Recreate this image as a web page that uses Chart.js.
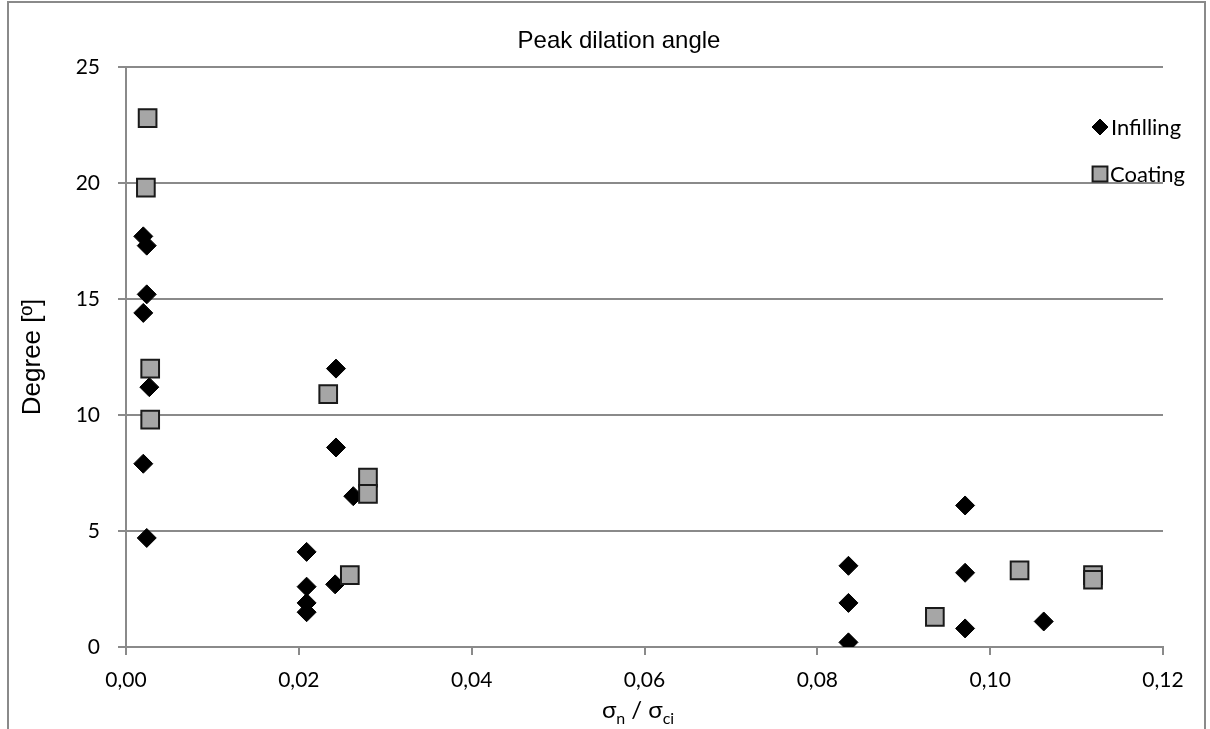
<!DOCTYPE html>
<html>
<head>
<meta charset="utf-8">
<script src="https://cdn.jsdelivr.net/npm/chart.js@4.4.1/dist/chart.umd.min.js"></script>
<style>
    html, body { margin: 0; padding: 0; background: #fff; }
    #wrap { width: 1210px; height: 729px; }
</style>
</head>
<body>
<div id="wrap"><canvas id="dilationChart" width="1210" height="729"></canvas></div>
<script>

const chartTitle = "Peak dilation angle";
const seriesNames = ["Infilling", "Coating"];

const xTicks = [0, 0.02, 0.04, 0.06, 0.08, 0.10, 0.12];
const yTicks = [0, 5, 10, 15, 20, 25];

// sigma_n / sigma_ci
const infillingX = [0.0020, 0.0024, 0.0024, 0.0020, 0.0027, 0.0020, 0.0024,
                    0.0243, 0.0243, 0.0263, 0.0209, 0.0209, 0.0209, 0.0209, 0.0242,
                    0.0971, 0.0836, 0.0836, 0.0836, 0.0971, 0.0971, 0.1062];
// degree
const infillingY = [17.7, 17.3, 15.2, 14.4, 11.2, 7.9, 4.7,
                    12.0, 8.6, 6.5, 4.1, 2.6, 1.9, 1.5, 2.7,
                    6.1, 3.5, 1.9, 0.2, 3.2, 0.8, 1.1];

const coatingX = [0.0025, 0.0023, 0.0028, 0.0028,
                  0.0234, 0.0280, 0.0280, 0.0259,
                  0.0936, 0.1034, 0.1119, 0.1119];
const coatingY = [22.8, 19.8, 12.0, 9.8,
                  10.9, 7.3, 6.6, 3.1,
                  1.3, 3.3, 3.1, 2.9];

function toPoints(xs, ys) {
    return xs.map((x, i) => ({ x: x, y: ys[i] }));
}

const tickFont = { family: "Lato, 'Open Sans', sans-serif", size: 21 };

// white background, outer frame, title, x title and legend
const decorations = {
    id: "decorations",
    beforeDraw(chart) {
        const c = chart.ctx;
        c.save();
        c.fillStyle = "#fff";
        c.fillRect(0, 0, chart.width, chart.height);
        c.restore();
    },
    afterDraw(chart) {
        const c = chart.ctx;
        c.save();

        // frame
        c.strokeStyle = "#8a8a8a";
        c.lineWidth = 2;
        c.beginPath();
        c.moveTo(8, chart.height);
        c.lineTo(8, 2);
        c.lineTo(1205, 2);
        c.lineTo(1205, chart.height);
        c.stroke();

        // title
        c.fillStyle = "#000";
        c.font = "24px 'Liberation Sans', Arial, sans-serif";
        c.textAlign = "center";
        c.textBaseline = "alphabetic";
        c.fillText(chartTitle, 619, 48);

        // x axis title with subscripts
        const main = "24px Lato, 'Open Sans', sans-serif";
        const sub = "16px Lato, 'Open Sans', sans-serif";
        const parts = [
            ["σ", main, 0], ["n", sub, 6], [" / σ", main, 0], ["ci", sub, 6]
        ];
        let total = 0;
        parts.forEach(p => { c.font = p[1]; total += c.measureText(p[0]).width; });
        let x = 638 - total / 2;
        const base = 718;
        c.textAlign = "left";
        parts.forEach(p => {
            c.font = p[1];
            c.fillText(p[0], x, base + p[2]);
            x += c.measureText(p[0]).width;
        });

        // legend
        const legendY = [127, 174];
        c.font = "22px Lato, 'Open Sans', sans-serif";
        c.textBaseline = "middle";
        chart.data.datasets.forEach((ds, i) => {
            const mx = 1100;
            const my = legendY[i];
            const isRect = ds.pointStyle === "rect";
            c.fillStyle = ds.backgroundColor;
            c.strokeStyle = ds.borderColor;
            c.lineWidth = ds.borderWidth;
            Chart.helpers.drawPoint(c, {
                pointStyle: ds.pointStyle,
                radius: isRect ? 10.5 : 8,
                rotation: 0,
                borderWidth: ds.borderWidth
            }, mx, my);
            c.fillStyle = "#000";
            c.fillText(ds.label, isRect ? 1110 : 1111, my + 1);
        });

        c.restore();
    }
};

const ctx = document.getElementById("dilationChart");

const chart = new Chart(ctx, {

    type: "scatter",

    data: {
        datasets: [
            {
                label: seriesNames[0],
                data: toPoints(infillingX, infillingY),
                pointStyle: "rectRot",
                pointRadius: 9.5,
                backgroundColor: "#000",
                borderColor: "#000",
                borderWidth: 1,
                order: 1
            },
            {
                label: seriesNames[1],
                data: toPoints(coatingX, coatingY),
                pointStyle: "rect",
                pointRadius: 12.5,
                backgroundColor: "#a6a6a6",
                borderColor: "#1a1a1a",
                borderWidth: 2,
                order: 0
            }
        ]
    },

    options: {
        responsive: false,
        animation: false,
        layout: {
            padding: { top: 67, right: 47, bottom: 0, left: 0 }
        },
        plugins: {
            legend: { display: false },
            title: { display: false },
            tooltip: { enabled: false }
        },
        scales: {
            x: {
                type: "linear",
                min: 0,
                max: 0.12,
                afterBuildTicks: scale => {
                    scale.ticks = xTicks.map(v => ({ value: v }));
                },
                afterFit: scale => { scale.height = 82; },
                ticks: {
                    color: "#000",
                    font: tickFont,
                    padding: 13,
                    maxRotation: 0,
                    callback: v => v.toFixed(2).replace(".", ",")
                },
                grid: {
                    drawOnChartArea: false,
                    drawTicks: true,
                    tickLength: 8,
                    color: "#8a8a8a",
                    lineWidth: 2
                },
                border: { display: true, color: "#8a8a8a", width: 2 },
                title: { display: false }
            },
            y: {
                min: 0,
                max: 25,
                afterBuildTicks: scale => {
                    scale.ticks = yTicks.map(v => ({ value: v }));
                },
                afterFit: scale => { scale.width = 126; },
                ticks: {
                    color: "#000",
                    font: tickFont,
                    padding: 18
                },
                grid: {
                    drawTicks: true,
                    tickLength: 8,
                    color: "#8a8a8a",
                    lineWidth: 2
                },
                border: { display: true, color: "#8a8a8a", width: 2 },
                title: {
                    display: true,
                    text: "Degree [º]",
                    color: "#000",
                    font: { family: "'Liberation Sans', Arial, sans-serif", size: 26 },
                    padding: { top: 17, bottom: 0 }
                }
            }
        }
    },

    plugins: [decorations]
});

</script>
</body>
</html>
